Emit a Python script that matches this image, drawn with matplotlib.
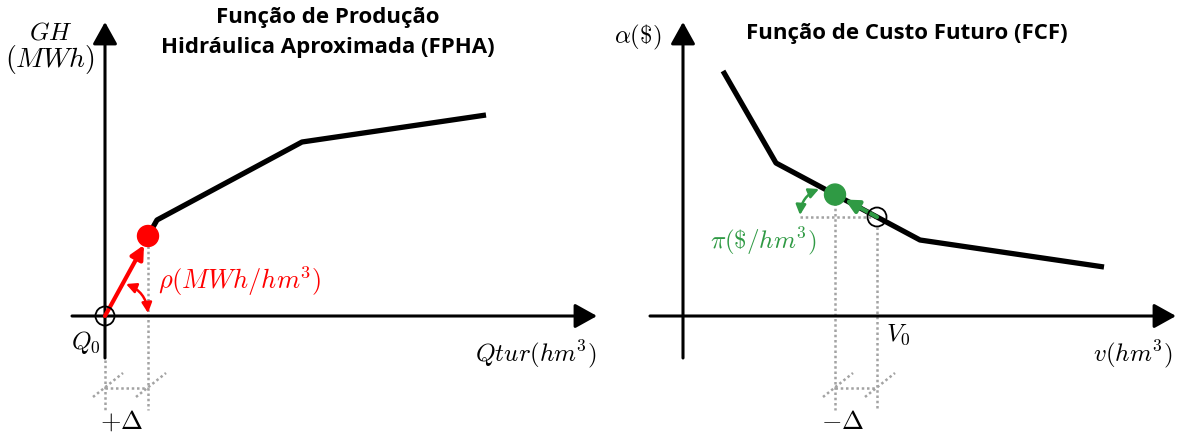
import numpy as np
import matplotlib
matplotlib.use("Agg")
import matplotlib.pyplot as plt
from matplotlib.patches import FancyArrowPatch, Circle

plt.rcParams["mathtext.fontset"] = "cm"

W, H = 1177, 434
RED = "#ff0000"
GREEN = "#2f9a44"
GRAY = "#a3a3a3"
MATH_FS = 18
TITLE_FS = 16

# --- left panel: FPHA (diagram units = pixels) ---
fpha_x = [148, 157, 302, 486]
fpha_y = [236, 220, 142, 115]
q0_x, q0_y = 105, 316
left_xaxis = [72, 597]
left_yaxis = [358, 22]

# --- right panel: FCF ---
fcf_x = [723, 776, 920, 1104]
fcf_y = [71, 163, 240, 267]
v0_x = 877
v1_x = 835
right_origin = (683, 316)
right_xaxis = [650, 1176]
right_yaxis = [358, 22]

delta_y = 388
delta_bottom = 410


def axis_arrow(ax, p0, p1):
    ax.annotate("", xy=p1, xytext=p0,
                arrowprops=dict(arrowstyle="-|>,head_length=13.5,head_width=7.5",
                                mutation_scale=1, lw=2.2, color="black",
                                shrinkA=0, shrinkB=0))


def arrow(ax, p0, p1, color, lw=3.0, style="-|>,head_length=8,head_width=4", conn="arc3"):
    ax.add_patch(FancyArrowPatch(p0, p1, arrowstyle=style, mutation_scale=1,
                                 lw=lw, color=color, shrinkA=0, shrinkB=0,
                                 connectionstyle=conn, zorder=5))


def dotted(ax, xs, ys):
    ax.plot(xs, ys, color=GRAY, lw=1.8, ls=(0, (1, 1.1)), zorder=1)


def delta_marks(ax, xa, xb):
    dotted(ax, [xa, xb], [delta_y, delta_y])
    for x in (xa, xb):
        dotted(ax, [x - 12, x + 18], [delta_y + 9, delta_y - 15])


fig = plt.figure(figsize=(W / 100, H / 100), dpi=100)
ax = fig.add_axes([0, 0, 1, 1])
ax.set_xlim(0, W)
ax.set_ylim(H, 0)
ax.axis("off")

# ===== left =====
axis_arrow(ax, (left_xaxis[0], q0_y), (left_xaxis[1], q0_y))
axis_arrow(ax, (q0_x, left_yaxis[0]), (q0_x, left_yaxis[1]))
ax.plot(fpha_x, fpha_y, color="black", lw=3.8, solid_capstyle="butt", zorder=3)

rho_x, rho_y = fpha_x[0], fpha_y[0]
dotted(ax, [rho_x, rho_x], [rho_y + 10, delta_bottom])
dotted(ax, [q0_x, q0_x], [left_yaxis[0] + 2, delta_bottom])
delta_marks(ax, q0_x, rho_x)

arrow(ax, (q0_x, q0_y), (rho_x - 4, rho_y + 9), RED, lw=3.0)
ax.add_patch(Circle((rho_x, rho_y), 10.5, color=RED, zorder=6))
ax.add_patch(Circle((q0_x, q0_y), 9.5, fill=False, ec="black", lw=1.3, zorder=6))
arrow(ax, (126, 284), (148, 313), RED, lw=1.8,
      style="<|-|>,head_length=6,head_width=3", conn="arc3,rad=-0.3")

ax.text(328, 17, "Função de Produção", ha="center", va="center",
        fontsize=TITLE_FS, fontweight="bold", family="Open Sans")
ax.text(328, 47, "Hidráulica Aproximada (FPHA)", ha="center", va="center",
        fontsize=TITLE_FS, fontweight="bold", family="Open Sans")
ax.text(51, 33, r"$GH$", ha="center", va="center", fontsize=MATH_FS)
ax.text(50, 60, r"$(MWh)$", ha="center", va="center", fontsize=MATH_FS + 2)
ax.text(597, 354, r"$Qtur(hm^3)$", ha="right", va="center", fontsize=MATH_FS)
ax.text(101, 342, r"$Q_0$", ha="right", va="center", fontsize=MATH_FS)
ax.text(122, 422, r"$+\Delta$", ha="center", va="center", fontsize=MATH_FS + 1)
ax.text(158, 281, r"$\rho(MWh/hm^3)$", ha="left", va="center", fontsize=MATH_FS + 1, color=RED)

# ===== right =====
ox, oy = right_origin
axis_arrow(ax, (right_xaxis[0], oy), (right_xaxis[1], oy))
axis_arrow(ax, (ox, right_yaxis[0]), (ox, right_yaxis[1]))
ax.plot(fcf_x, fcf_y, color="black", lw=3.8, solid_capstyle="butt", zorder=3)

v0_y = np.interp(v0_x, fcf_x, fcf_y)
v1_y = np.interp(v1_x, fcf_x, fcf_y)
dotted(ax, [v1_x, v1_x], [v1_y + 8, delta_bottom])
dotted(ax, [v0_x, v0_x], [v0_y + 10, delta_bottom])
dotted(ax, [800, v0_x], [v0_y, v0_y])
delta_marks(ax, v1_x, v0_x)

arrow(ax, (v0_x, v0_y), (v1_x + 10, v1_y + 5), GREEN, lw=3.0)
ax.add_patch(Circle((v1_x, v1_y), 10.5, color=GREEN, zorder=6))
ax.add_patch(Circle((v0_x, v0_y), 9.5, fill=False, ec="black", lw=1.3, zorder=6))
arrow(ax, (819, 189), (800, 215), GREEN, lw=1.8,
      style="<|-|>,head_length=6,head_width=3", conn="arc3,rad=0.3")

ax.text(907, 34, "Função de Custo Futuro (FCF)", ha="center", va="center",
        fontsize=TITLE_FS, fontweight="bold", family="Open Sans")
ax.text(638, 37, r"$\alpha(\$)$", ha="center", va="center", fontsize=MATH_FS)
ax.text(1172, 354, r"$v(hm^3)$", ha="right", va="center", fontsize=MATH_FS)
ax.text(886, 335, r"$V_0$", ha="left", va="center", fontsize=MATH_FS)
ax.text(843, 422, r"$-\Delta$", ha="center", va="center", fontsize=MATH_FS + 1)
ax.text(763, 241, r"$\pi(\$/hm^3)$", ha="center", va="center", fontsize=MATH_FS, color=GREEN)

fig.savefig("out.png", dpi=100)
